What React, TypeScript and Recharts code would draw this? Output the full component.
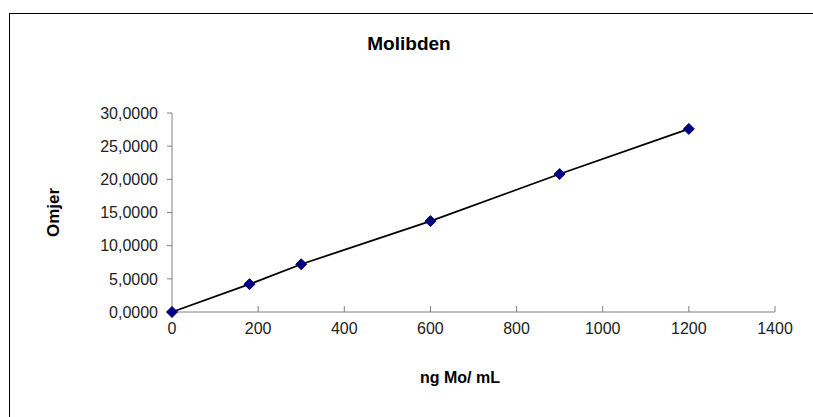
import React from 'react';
import { ComposedChart, Line, XAxis, YAxis } from 'recharts';

// calibration points
const concentrations = [0, 180, 300, 600, 900, 1200];
const ratios = [0, 4.2, 7.2, 13.7, 20.8, 27.6];
const xTicks = [0, 200, 400, 600, 800, 1000, 1200, 1400];
const yTicks = [0, 5, 10, 15, 20, 25, 30];

const data = concentrations.map((x, i) => ({ x, y: ratios[i] }));

const FONT = '"Liberation Sans", Arial, sans-serif';
const AXIS = '#808080';

const Diamond = (props: any) => {
  const { cx, cy } = props;
  if (cx == null || cy == null) return null;
  const r = 5.5;
  return (
    <polygon
      points={`${cx},${cy - r} ${cx + r},${cy} ${cx},${cy + r} ${cx - r},${cy}`}
      fill="#000080"
      stroke="#000080"
      strokeWidth={1}
    />
  );
};

const fmt = (v: number) => v.toFixed(4).replace('.', ',');

export default function App() {
  return (
    <div
      style={{
        position: 'absolute',
        left: 0,
        top: 0,
        width: 813,
        height: 417,
        overflow: 'hidden',
        background: '#fff',
        fontFamily: FONT,
      }}
    >
      <div
        style={{
          position: 'absolute',
          left: 9,
          top: 13,
          width: 900,
          height: 500,
          borderLeft: '1.5px solid #000',
          borderTop: '1.5px solid #000',
        }}
      />
      <div
        style={{
          position: 'absolute',
          left: 309,
          width: 200,
          top: 33,
          textAlign: 'center',
          fontSize: 19,
          fontWeight: 'bold',
          color: '#000',
        }}
      >
        Molibden
      </div>
      <ComposedChart
        width={813}
        height={417}
        data={data}
        margin={{ top: 113, right: 38, left: 0, bottom: 0 }}
        style={{ position: 'absolute', left: 0, top: 0 }}
      >
        <XAxis
          dataKey="x"
          type="number"
          domain={[0, 1400]}
          ticks={xTicks}
          interval={0}
          height={105}
          stroke={AXIS}
          tickSize={-6}
          tickMargin={17}
          tick={{ fill: '#222', fontSize: 16, fontFamily: FONT }}
          label={({ viewBox }: any) => (
            <text
              x={460}
              y={viewBox.y + 71}
              textAnchor="middle"
              fontSize={16}
              fontWeight="bold"
              fontFamily={FONT}
              fill="#000"
            >
              ng Mo/ mL
            </text>
          )}
        />
        <YAxis
          type="number"
          domain={[0, 30]}
          ticks={yTicks}
          interval={0}
          width={172}
          stroke={AXIS}
          tickSize={5}
          tickMargin={9}
          tickFormatter={fmt}
          tick={{ fill: '#222', fontSize: 16, fontFamily: FONT }}
          label={({ viewBox }: any) => {
            const cy = viewBox.y + viewBox.height / 2;
            return (
              <text
                x={59}
                y={cy}
                transform={`rotate(-90 59 ${cy})`}
                textAnchor="middle"
                fontSize={17}
                fontWeight="bold"
                fontFamily={FONT}
                fill="#000"
              >
                Omjer
              </text>
            );
          }}
        />
        <Line
          type="linear"
          dataKey="y"
          stroke="#000"
          strokeWidth={1.8}
          dot={<Diamond />}
          activeDot={false}
          isAnimationActive={false}
        />
      </ComposedChart>
    </div>
  );
}
